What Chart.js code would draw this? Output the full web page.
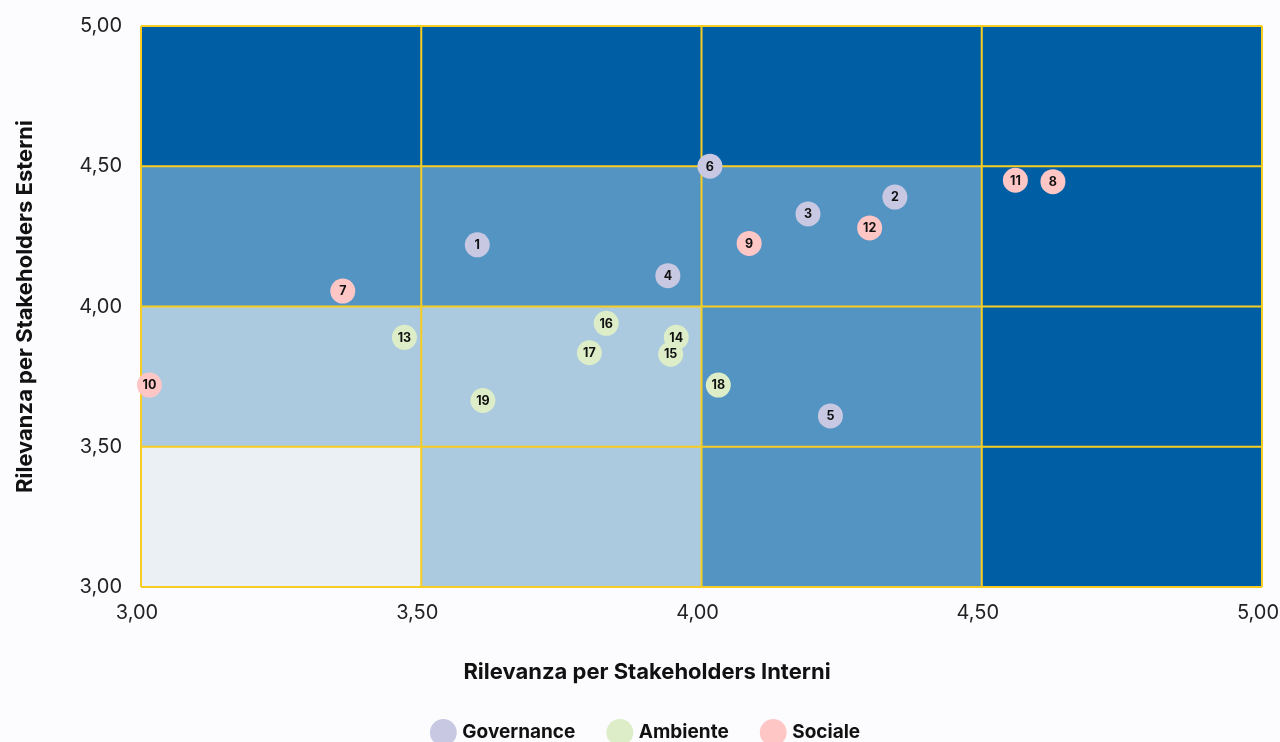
<!DOCTYPE html>
<html>
<head>
<meta charset="utf-8">
<script src="https://cdn.jsdelivr.net/npm/chart.js@4/dist/chart.umd.min.js"></script>
<style>
html, body { margin:0; padding:0; background:#fcfcfe; overflow:hidden; }
#wrap { width:1280px; height:752px; position:relative; }
</style>
</head>
<body>
<div id="wrap"><canvas id="grafica"></canvas></div>
<script>
// assi
const tickValori = [3.0, 3.5, 4.0, 4.5, 5.0];

// Governance
const governanceId = [1, 2, 3, 4, 5, 6];
const governanceInterni = [3.60, 4.345, 4.19, 3.94, 4.23, 4.015];
const governanceEsterni = [4.22, 4.39, 4.33, 4.11, 3.61, 4.50];

// Ambiente
const ambienteId = [13, 14, 15, 16, 17, 18, 19];
const ambienteInterni = [3.47, 3.955, 3.945, 3.83, 3.80, 4.03, 3.61];
const ambienteEsterni = [3.89, 3.89, 3.83, 3.94, 3.835, 3.72, 3.665];

// Sociale
const socialeId = [7, 8, 9, 10, 11, 12];
const socialeInterni = [3.36, 4.627, 4.085, 3.015, 4.56, 4.30];
const socialeEsterni = [4.055, 4.445, 4.225, 3.72, 4.45, 4.28];

// livello di rilevanza delle celle (righe dal basso, colonne da sinistra)
const livelli = [
    [0, 1, 2, 3],
    [1, 1, 2, 3],
    [2, 2, 2, 3],
    [3, 3, 3, 3]
];
const coloriLivello = ['#ebf0f4', '#abcadf', '#5494c3', '#005fa4'];
const giallo = '#f8cd22';

const punti = (xs, ys, ids) => xs.map((x, i) => ({ x: x, y: ys[i], id: ids[i] }));
const fmt = v => Number(v).toFixed(2).replace('.', ',');

const sfondoCelle = {
    id: 'sfondoCelle',
    beforeDatasetsDraw(chart) {
        const { ctx, scales: { x, y } } = chart;
        ctx.save();
        livelli.forEach((riga, r) => {
            riga.forEach((liv, c) => {
                const x0 = x.getPixelForValue(tickValori[c]);
                const x1 = x.getPixelForValue(tickValori[c + 1]);
                const y0 = y.getPixelForValue(tickValori[r + 1]);
                const y1 = y.getPixelForValue(tickValori[r]);
                ctx.fillStyle = coloriLivello[liv];
                ctx.fillRect(x0, y0, x1 - x0, y1 - y0);
            });
        });
        // griglia gialla sopra le celle
        ctx.strokeStyle = giallo;
        ctx.lineWidth = 2;
        tickValori.forEach(v => {
            const px = x.getPixelForValue(v);
            const py = y.getPixelForValue(v);
            ctx.beginPath(); ctx.moveTo(px, y.top); ctx.lineTo(px, y.bottom); ctx.stroke();
            ctx.beginPath(); ctx.moveTo(x.left, py); ctx.lineTo(x.right, py); ctx.stroke();
        });
        ctx.restore();
    }
};

const etichettePunti = {
    id: 'etichettePunti',
    afterDatasetsDraw(chart) {
        const ctx = chart.ctx;
        ctx.save();
        ctx.font = 'bold 12.5px Inter';
        ctx.fillStyle = '#111';
        ctx.textAlign = 'center';
        ctx.textBaseline = 'middle';
        chart.data.datasets.forEach((ds, i) => {
            chart.getDatasetMeta(i).data.forEach((el, j) => {
                ctx.fillText(ds.data[j].id, el.x, el.y + 0.5);
            });
        });
        ctx.restore();
    }
};

const ctx = document.getElementById('grafica').getContext('2d');
new Chart(ctx, {
    type: 'scatter',
    data: {
        datasets: [
            { label: 'Governance', data: punti(governanceInterni, governanceEsterni, governanceId), backgroundColor: '#c8c8e3' },
            { label: 'Ambiente', data: punti(ambienteInterni, ambienteEsterni, ambienteId), backgroundColor: '#dcedc8' },
            { label: 'Sociale', data: punti(socialeInterni, socialeEsterni, socialeId), backgroundColor: '#ffc6c6' }
        ]
    },
    options: {
        responsive: true,
        maintainAspectRatio: false,
        animation: false,
        elements: { point: { radius: 12.5, hoverRadius: 12.5, borderWidth: 0 } },
        datasets: { scatter: { clip: false } },
        layout: { padding: { left: 32, top: 26, right: 18, bottom: 0 } },
        plugins: {
            tooltip: { enabled: false },
            title: {
                display: true,
                position: 'bottom',
                weight: 500,
                text: 'Rilevanza per Stakeholders Interni',
                color: '#111',
                font: { family: 'Inter', size: 22, weight: 'bold' },
                padding: { top: 32, bottom: 2.6 }
            },
            legend: {
                position: 'bottom',
                labels: {
                    usePointStyle: true,
                    pointStyle: 'circle',
                    color: '#111',
                    font: { family: 'Inter', size: 19, weight: 'bold' },
                    padding: 35
                }
            }
        },
        scales: {
            x: {
                min: 3, max: 5,
                ticks: { stepSize: 0.5, padding: 6, labelOffset: -4, color: '#222', font: { family: 'Inter', size: 20 }, callback: fmt },
                grid: { display: false },
                border: { display: false },
                afterFit(s) { s.height = 40; s.paddingLeft = 0; s.paddingRight = 0; }
            },
            y: {
                min: 3, max: 5,
                ticks: { stepSize: 0.5, padding: 11, color: '#222', font: { family: 'Inter', size: 20 }, callback: fmt },
                grid: { display: false },
                border: { display: false },
                title: { display: true, text: 'Rilevanza per Stakeholders Esterni', color: '#111', font: { family: 'Inter', size: 22, weight: 'bold' }, padding: { top: -20, bottom: 4 } },
                afterFit(s) { s.width = 109; s.paddingTop = 0; s.paddingBottom = 0; }
            }
        }
    },
    plugins: [sfondoCelle, etichettePunti]
});
</script>
</body>
</html>
